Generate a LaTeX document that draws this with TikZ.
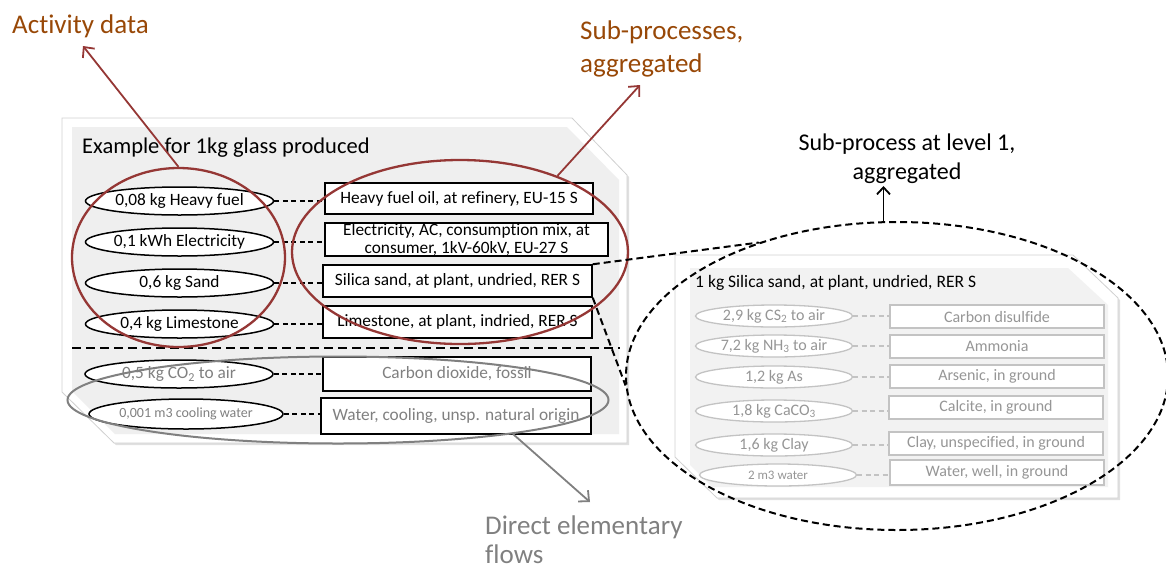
\documentclass[tikz,border=0pt]{standalone}
\usepackage{fontspec}
\setmainfont{Carlito}[Ligatures={TeX,NoCommon}]
\usetikzlibrary{shapes.geometric,arrows.meta}
\definecolor{brownlbl}{RGB}{152,72,7}
\definecolor{redln}{RGB}{149,55,53}
\definecolor{greyln}{RGB}{128,128,128}
\definecolor{greytxt}{RGB}{128,128,128}
\definecolor{lgreyln}{RGB}{195,195,195}
\definecolor{lgreytxt}{RGB}{150,150,150}
\definecolor{panelfill}{RGB}{239,239,239}
\definecolor{panelfillb}{RGB}{242,242,242}
\begin{document}
\begin{tikzpicture}[x=1pt,y=-1pt,
  inell/.style={ellipse, draw=black, line width=1.5pt, fill=white, minimum width=188pt, minimum height=28pt, inner sep=0pt, font=\fontsize{17.3}{20}\selectfont},
  inbox/.style={rectangle, draw=black, line width=1.5pt, fill=white, inner sep=0pt, font=\fontsize{17.3}{17.5}\selectfont},
  link/.style={draw=black, line width=1.1pt, dash pattern=on 5pt off 3.5pt},
  subell/.style={ellipse, draw=lgreyln, line width=1.3pt, fill=white, minimum width=157pt, minimum height=22pt, inner sep=0pt, text=lgreytxt, font=\fontsize{16}{18}\selectfont},
  subbox/.style={rectangle, draw=lgreyln, line width=1.3pt, fill=white, minimum width=214pt, minimum height=23pt, inner sep=0pt, text=lgreytxt, font=\fontsize{16}{18}\selectfont},
  sublink/.style={draw=lgreyln, line width=1.1pt, dash pattern=on 5pt off 3.5pt},
  redring/.style={ellipse, draw=redln, line width=2.3pt, inner sep=0pt},
  redarrow/.style={draw=redln, line width=1.8pt, -{Straight Barb[length=8pt,width=15pt]}},
  greyarrow/.style={draw=greyln, line width=1.8pt, -{Straight Barb[length=8pt,width=15pt]}},
  blackarrow/.style={draw=black, line width=1.8pt, -{Straight Barb[length=7pt,width=13pt]}},
  bigdash/.style={draw=black, line width=2pt, dash pattern=on 7pt off 4pt},
  biglabel/.style={inner sep=0pt, font=\fontsize{27}{33}\selectfont}
]
\useasboundingbox (0,0) rectangle (1166,571);

% ---------- main panel ----------
\fill[black!12] (64,120) -- (574,120) -- (629,177) -- (629,445) -- (116,445) -- (64,394) -- cycle;
\fill[white] (62,118) -- (572,118) -- (627,175) -- (627,443) -- (114,443) -- (62,392) -- cycle;
\draw[black!18, line width=0.8pt] (62,118) -- (572,118) -- (627,175) -- (627,443) -- (114,443) -- (62,392) -- cycle;
\fill[panelfill] (72,127) -- (567,127) -- (619,180) -- (619,434) -- (115,434) -- (72,391) -- cycle;

\node[anchor=base west, inner sep=0pt, font=\fontsize{22.5}{27}\selectfont] (title) at (82,153) {Example for 1kg glass produced};

\node[inell] (e1) at (179.5,201) {0,08 kg Heavy fuel};
\node[inell] (e2) at (179.5,242) {0,1 kWh Electricity};
\node[inell] (e3) at (179.5,283) {0,6 kg Sand};
\node[inell] (e4) at (179.5,324) {0,4 kg Limestone};
\node[inell, text=greytxt] (e5) at (179,374) {0,5 kg CO\textsubscript{2} to air};
\node[inell, text=greytxt, minimum width=194pt, minimum height=30pt, font=\fontsize{14}{16}\selectfont] (e6) at (186,414) {0,001 m3 cooling water};

\node[inbox, minimum width=268pt, minimum height=31pt] (b1) at (459,198.5) {Heavy fuel oil, at refinery, EU-15 S};
\node[inbox, minimum width=283pt, minimum height=33pt, align=center] (b2) at (466.5,239.5) {Electricity, AC, consumption mix, at\\consumer, 1kV-60kV, EU-27 S};
\node[inbox, minimum width=269pt, minimum height=32pt] (b3) at (457.5,281) {Silica sand, at plant, undried, RER S};
\node[inbox, minimum width=269pt, minimum height=32pt] (b4) at (457.5,322) {Limestone, at plant, indried, RER S};
\node[inbox, text=greytxt, minimum width=268pt, minimum height=34pt] (b5) at (457,374) {Carbon dioxide, fossil};
\node[inbox, text=greytxt, minimum width=270pt, minimum height=36pt] (b6) at (456,416) {Water, cooling, unsp. natural origin};

\foreach \i in {1,...,6} {
  \draw[link] (e\i.east) -- (e\i.east -| b\i.west);
}

\draw[draw=black, line width=2pt, dash pattern=on 9pt off 5pt] (72,348) -- (620,348);

% ---------- right panel ----------
\fill[black!12] (677,257) -- (1075,257) -- (1120,300) -- (1120,500) -- (719,500) -- (677,459) -- cycle;
\fill[white] (675,255) -- (1073,255) -- (1118,298) -- (1118,498) -- (717,498) -- (675,457) -- cycle;
\draw[black!18, line width=0.8pt] (675,255) -- (1073,255) -- (1118,298) -- (1118,498) -- (717,498) -- (675,457) -- cycle;
\fill[panelfillb] (690,268) -- (1068,268) -- (1108,305) -- (1108,487) -- (712,487) -- (690,465) -- cycle;

\node[anchor=base west, inner sep=0pt, font=\fontsize{17.5}{20}\selectfont] (rtitle) at (695,287) {1 kg Silica sand, at plant, undried, RER S};

\node[subell] (s1) at (774,316) {2,9 kg CS\textsubscript{2} to air};
\node[subell] (s2) at (774,346) {7,2 kg NH\textsubscript{3} to air};
\node[subell] (s3) at (774,377) {1,2 kg As};
\node[subell] (s4) at (774,411) {1,8 kg CaCO\textsubscript{3}};
\node[subell] (s5) at (774,445) {1,6 kg Clay};
\node[subell, font=\fontsize{13}{15}\selectfont] (s6) at (778,475) {2 m3 water};

\node[subbox] (r1) at (997,316.5) {Carbon disulfide};
\node[subbox] (r2) at (997,346.5) {Ammonia};
\node[subbox] (r3) at (997,376.5) {Arsenic, in ground};
\node[subbox] (r4) at (996,407.5) {Calcite, in ground};
\node[subbox] (r5) at (996,443.5) {Clay, unspecified, in ground};
\node[subbox, minimum height=25pt] (r6) at (997,472.5) {Water, well, in ground};

\foreach \i in {1,...,6} {
  \draw[sublink] (s\i.east) -- (s\i.east -| r\i.west);
}

% ---------- highlight rings ----------
\node[redring, minimum width=213pt, minimum height=179pt] (act) at (178.5,257.5) {};
\node[redring, minimum width=336pt, minimum height=184pt] (sub) at (460,252) {};
\node[ellipse, draw=greyln, line width=2pt, inner sep=0pt, minimum width=541pt, minimum height=87pt] (direct) at (338,400) {};
\node[ellipse, bigdash, inner sep=0pt, minimum width=542pt, minimum height=308pt] (zoomell) at (897,376) {};

\draw[bigdash] (b3.north east) -- (zoomell.136);
\draw[bigdash] (b3.south east) -- (zoomell.182);

% ---------- labels ----------
\node[biglabel, anchor=base west, text=brownlbl] (lblact) at (12,33) {Activity data};
\node[biglabel, anchor=base west, align=left, text=brownlbl] (lblsub) at (580,72) {Sub-processes,\\aggregated};
\node[anchor=base, align=center, inner sep=0pt, font=\fontsize{24}{29}\selectfont] (lbllvl) at (907,179) {Sub-process at level 1,\\aggregated};
\node[anchor=base west, align=left, inner sep=0pt, text=greytxt, font=\fontsize{27}{29}\selectfont] (lbldir) at (485,563) {Direct elementary\\flows};

\coordinate (actTip) at (83,46);
\coordinate (subTip) at (640,85);
\coordinate (lvlTip) at (883.5,186);
\coordinate (dirTip) at (590,502);

\draw[redarrow] (act.north) -- (actTip);
\draw[redarrow] (sub.38) -- (subTip);
\draw[blackarrow] (zoomell.95) -- (zoomell.95 |- lvlTip);
\draw[greyarrow] (direct.-11) -- (dirTip);
\end{tikzpicture}
\end{document}
